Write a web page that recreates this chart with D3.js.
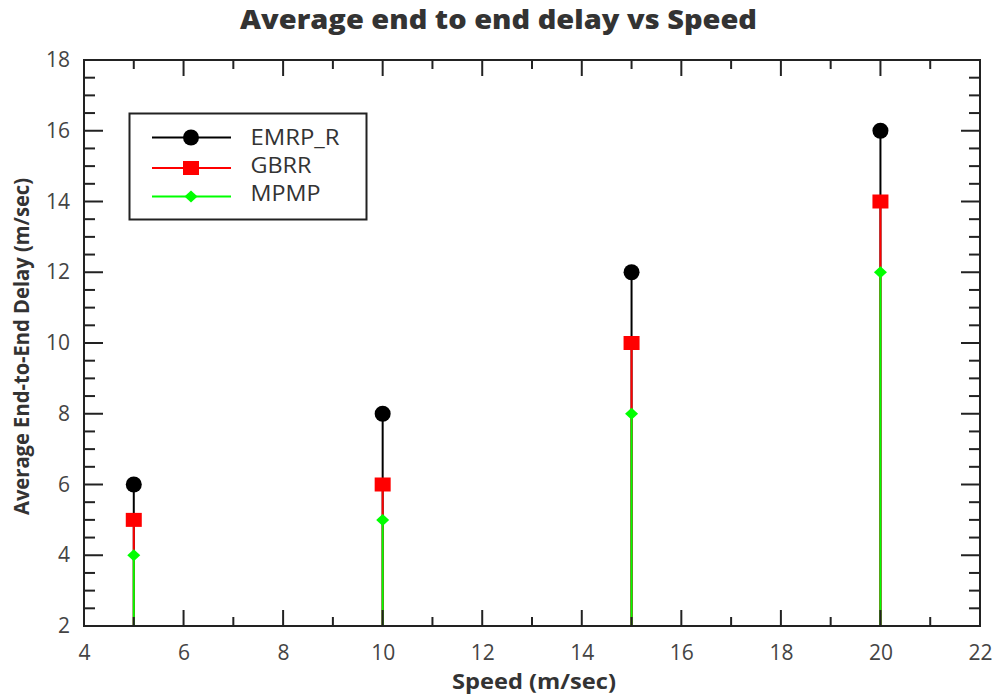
<!DOCTYPE html>
<html>
<head>
<meta charset="utf-8">
<script src="https://cdn.jsdelivr.net/npm/d3@7"></script>
<style>
  html, body { margin: 0; padding: 0; background: #fff; }
  svg { display: block; }
  text { font-family: "Open Sans", "Noto Sans", sans-serif; }
</style>
</head>
<body>
<svg id="chart" width="998" height="697"></svg>
<script>
// Speeds (m/sec) and average end-to-end delay per protocol
const speeds = [5, 10, 15, 20];
const emrpR = [6, 8, 12, 16];
const gbrr  = [5, 6, 10, 14];
const mpmp  = [4, 5, 8, 12];

const xTicks = [4, 6, 8, 10, 12, 14, 16, 18, 20, 22];
const yTicks = [2, 4, 6, 8, 10, 12, 14, 16, 18];

const series = [
  { name: "EMRP_R", values: emrpR, color: "#000000", marker: "circle",  labelWidth: 89 },
  { name: "GBRR",   values: gbrr,  color: "#ff0000", marker: "square",  labelWidth: 61 },
  { name: "MPMP",   values: mpmp,  color: "#00ff00", marker: "diamond", labelWidth: 70 }
];

const svg = d3.select("#chart");
const m = { left: 84, right: 980, top: 60, bottom: 626 };

const x = d3.scaleLinear().domain([4, 22]).range([m.left, m.right]);
const y = d3.scaleLinear().domain([2, 18]).range([m.bottom, m.top]);

const axisColor = "#222";
const textColor = "#333";
const tickColor = "#444";

// Title
svg.append("text")
  .attr("x", 240).attr("y", 29)
  .attr("font-size", 27).attr("font-weight", 800)
  .attr("fill", textColor)
  .attr("textLength", 517).attr("lengthAdjust", "spacingAndGlyphs")
  .text("Average end to end delay vs Speed");

// Stems: drawn tallest first so shorter series sit on top
const g = svg.append("g");
series.forEach(s => {
  g.selectAll(null).data(speeds).enter().append("line")
    .attr("x1", d => x(d)).attr("x2", d => x(d))
    .attr("y1", y(2))
    .attr("y2", (d, i) => y(s.values[i]))
    .attr("stroke", s.color).attr("stroke-width", 2);
});

// Frame and tick marks
const frame = svg.append("g");
frame.append("rect")
  .attr("x", m.left).attr("y", m.top)
  .attr("width", m.right - m.left).attr("height", m.bottom - m.top)
  .attr("fill", "none").attr("stroke", axisColor).attr("stroke-width", 2);

const xMinor = d3.range(5, 22, 2);
const yMinor = d3.range(2, 18.01, 0.5).filter(v => v % 2 !== 0);

function tickLines(vals, len, horizontal) {
  vals.forEach(v => {
    if (horizontal) {
      frame.append("line").attr("x1", x(v)).attr("x2", x(v))
        .attr("y1", m.bottom).attr("y2", m.bottom - len)
        .attr("stroke", axisColor).attr("stroke-width", 2);
      frame.append("line").attr("x1", x(v)).attr("x2", x(v))
        .attr("y1", m.top).attr("y2", m.top + len)
        .attr("stroke", axisColor).attr("stroke-width", 2);
    } else {
      frame.append("line").attr("y1", y(v)).attr("y2", y(v))
        .attr("x1", m.left).attr("x2", m.left + len)
        .attr("stroke", axisColor).attr("stroke-width", 2);
      frame.append("line").attr("y1", y(v)).attr("y2", y(v))
        .attr("x1", m.right).attr("x2", m.right - len)
        .attr("stroke", axisColor).attr("stroke-width", 2);
    }
  });
}
tickLines(xTicks.slice(1, -1), 16, true);
tickLines(xMinor, 9, true);
tickLines(yTicks.slice(1, -1), 19, false);
tickLines(yMinor, 11, false);

// Tick labels via d3 axes (lines hidden, frame draws them)
const xAxis = svg.append("g")
  .attr("transform", `translate(0,${m.bottom})`)
  .call(d3.axisBottom(x).tickValues(xTicks).tickSize(0).tickPadding(19));
const yAxis = svg.append("g")
  .attr("transform", `translate(${m.left},0)`)
  .call(d3.axisLeft(y).tickValues(yTicks).tickSize(0).tickPadding(14));
[xAxis, yAxis].forEach(a => {
  a.select(".domain").remove();
  a.selectAll("text")
    .attr("font-family", '"Open Sans", "Noto Sans", sans-serif')
    .attr("font-size", 21).attr("fill", tickColor);
});

// Axis titles
svg.append("text")
  .attr("x", 452).attr("y", 689)
  .attr("font-size", 22).attr("font-weight", "bold").attr("fill", textColor)
  .attr("textLength", 164).attr("lengthAdjust", "spacingAndGlyphs")
  .text("Speed (m/sec)");
svg.append("text")
  .attr("transform", `translate(29,515) rotate(-90)`)
  .attr("font-size", 21).attr("font-weight", "bold").attr("fill", textColor)
  .attr("textLength", 337).attr("lengthAdjust", "spacingAndGlyphs")
  .text("Average End-to-End Delay (m/sec)");

// Markers
function drawMarker(sel, type, color) {
  if (type === "circle") {
    sel.append("circle").attr("r", 8).attr("fill", color);
  } else if (type === "square") {
    sel.append("rect").attr("x", -8).attr("y", -7).attr("width", 16).attr("height", 14).attr("fill", color);
  } else {
    sel.append("path").attr("d", "M0,-6L6.5,0L0,6L-6.5,0Z").attr("fill", color);
  }
}
series.forEach(s => {
  speeds.forEach((sp, i) => {
    const mk = svg.append("g").attr("transform", `translate(${x(sp)},${y(s.values[i])})`);
    drawMarker(mk, s.marker, s.color);
  });
});

// Legend
const legend = svg.append("g");
legend.append("rect")
  .attr("x", 129.5).attr("y", 113.5).attr("width", 237).attr("height", 106)
  .attr("fill", "#fff").attr("stroke", axisColor).attr("stroke-width", 2);
const rowsY = [137.5, 168, 196.5];
const textBase = [145, 173, 201];
series.forEach((s, i) => {
  legend.append("line")
    .attr("x1", 152).attr("x2", 231).attr("y1", rowsY[i]).attr("y2", rowsY[i])
    .attr("stroke", s.color).attr("stroke-width", 2);
  const mk = legend.append("g").attr("transform", `translate(191,${rowsY[i]})`);
  drawMarker(mk, s.marker, s.color);
  legend.append("text")
    .attr("x", 250.5).attr("y", textBase[i])
    .attr("font-size", 21).attr("fill", textColor)
    .attr("textLength", s.labelWidth).attr("lengthAdjust", "spacingAndGlyphs")
    .text(s.name);
});
</script>
</body>
</html>
